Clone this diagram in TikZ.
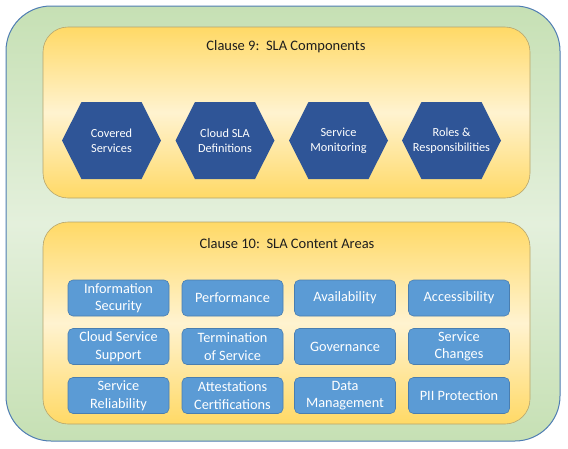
\documentclass[tikz,border=0pt]{standalone}
\usepackage{fontspec}
\setmainfont{Carlito}
\definecolor{greenTop}{HTML}{C6E0B4}
\definecolor{greenMid}{HTML}{E4F0DC}
\definecolor{greenLine}{HTML}{4F7DB3}
\definecolor{yelTop}{HTML}{FFD966}
\definecolor{yelMid}{HTML}{FFF3D0}
\definecolor{yelLine}{HTML}{B5A56E}
\definecolor{hexBlue}{HTML}{2F5597}
\definecolor{boxBlue}{HTML}{5B9BD5}
\definecolor{boxLine}{HTML}{4A7EB0}
\definecolor{titleText}{HTML}{1E1E1E}
\tikzset{
  outerpanel/.style={draw=greenLine, line width=1pt, top color=greenTop, bottom color=greenTop, middle color=greenMid, rounded corners=45pt},
  yelpanel/.style={draw=yelLine, line width=0.6pt, top color=yelTop, bottom color=yelTop, middle color=yelMid, rounded corners=25pt},
  hexfill/.style={fill=hexBlue},
  hextext/.style={text=white, align=center, font=\fontsize{12.3}{15}\selectfont},
  areabox/.style={draw=boxLine, line width=0.6pt, fill=boxBlue, rounded corners=5pt, minimum width=101pt, minimum height=36pt, inner sep=0pt, text=white, align=center, font=\fontsize{14.3}{17.5}\selectfont},
  paneltitle/.style={text=titleText, font=\fontsize{14.5}{17}\selectfont}
}
\newcommand{\hexat}[2]{%
  \path[hexfill] (#1-49.5,#2) -- (#1-30,#2-38.5) -- (#1+30,#2-38.5) -- (#1+49.5,#2) -- (#1+30,#2+38.5) -- (#1-30,#2+38.5) -- cycle;}
\begin{document}
\begin{tikzpicture}[x=1pt,y=-1pt]
\useasboundingbox (0,0) rectangle (568,448);
\fill[white] (0,0) rectangle (568,448);
\path[outerpanel] (6,6) rectangle (560,441);
\path[yelpanel] (43,27) rectangle (530,198);
\path[yelpanel] (43,222) rectangle (530,424);
\node[paneltitle] (t9) at (286,47) {Clause 9:\ \ SLA Components};
\node[paneltitle] (t10) at (287,244) {Clause 10:\ \ SLA Content Areas};
% hexagons
\hexat{111.5}{140.5}
\hexat{225}{140.5}
\hexat{338.5}{140.5}
\hexat{451.5}{140.5}
\node[hextext] (h1) at (111.5,140.5) {Covered\\Services};
\node[hextext] (h2) at (225,140.5) {Cloud SLA\\Definitions};
\node[hextext] (h3) at (338.5,140.5) {Service\\Monitoring};
\node[hextext] (h4) at (451.5,140.5) {Roles \&\\Responsibilities};
% content area boxes
\node[areabox] (b11) at (118.5,298) {Information\\Security};
\node[areabox] (b12) at (232.5,298) {Performance};
\node[areabox] (b13) at (345,298) {Availability};
\node[areabox] (b14) at (459,298) {Accessibility};
\node[areabox] (b21) at (118.5,346.5) {Cloud Service\\Support};
\node[areabox] (b22) at (232.5,346.5) {Termination\\of Service};
\node[areabox] (b23) at (345,346.5) {Governance};
\node[areabox] (b24) at (459,346.5) {Service\\Changes};
\node[areabox] (b31) at (118.5,395.5) {Service\\Reliability};
\node[areabox] (b32) at (232.5,395.5) {Attestations\\Certifications};
\node[areabox] (b33) at (345,395.5) {Data\\Management};
\node[areabox] (b34) at (459,395.5) {PII Protection};
\end{tikzpicture}
\end{document}
